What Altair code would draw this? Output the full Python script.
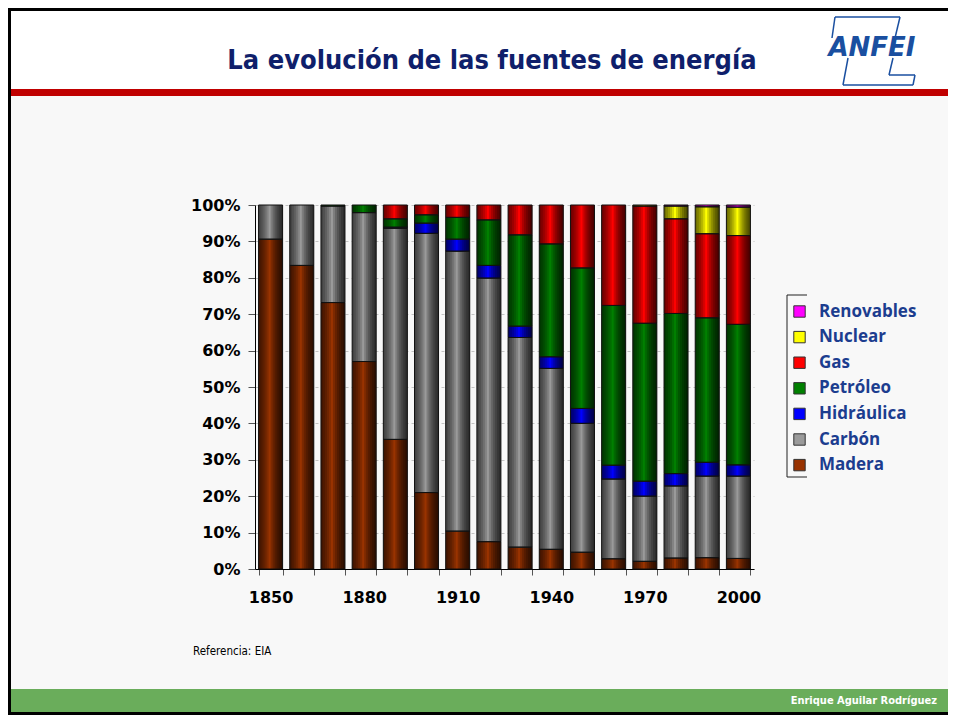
import altair as alt
import pandas as pd

# ---------------- data ----------------
anios = [1850, 1860, 1870, 1880, 1890, 1900, 1910, 1920,
         1930, 1940, 1950, 1960, 1970, 1980, 1990, 2000]
madera = [90.6, 83.4, 73.2, 57.0, 35.6, 21.0, 10.4, 7.5, 6.0, 5.4, 4.6, 2.8, 2.1, 3.0, 3.1, 2.9]
carbon = [9.4, 16.6, 26.5, 40.9, 58.0, 71.2, 76.9, 72.4, 57.6, 49.7, 35.4, 21.9, 17.9, 19.8, 22.4, 22.6]
hidraulica = [0, 0, 0, 0, 0.3, 2.8, 3.3, 3.5, 3.1, 3.2, 4.1, 3.8, 4.1, 3.4, 3.8, 3.1]
petroleo = [0, 0, 0.3, 2.1, 2.3, 2.3, 6.0, 12.5, 25.1, 31.0, 38.6, 43.9, 43.4, 44.0, 39.7, 38.6]
gas = [0, 0, 0, 0, 3.8, 2.7, 3.4, 4.1, 8.2, 10.7, 17.3, 27.6, 32.2, 26.0, 23.1, 24.4]
nuclear = [0, 0, 0, 0, 0, 0, 0, 0, 0, 0, 0, 0, 0.3, 3.5, 7.4, 7.8]
renovables = [0, 0, 0, 0, 0, 0, 0, 0, 0, 0, 0, 0, 0, 0.3, 0.5, 0.6]

fuentes = ["Madera", "Carbón", "Hidráulica", "Petróleo", "Gas", "Nuclear", "Renovables"]
colores = ["#993300", "#9a9a9a", "#0000ff", "#008000", "#ff0000", "#ffff00", "#ff00ff"]
series = [madera, carbon, hidraulica, petroleo, gas, nuclear, renovables]
y_ticks = [0, 0.1, 0.2, 0.3, 0.4, 0.5, 0.6, 0.7, 0.8, 0.9, 1.0]

titulo = "La evolución de las fuentes de energía"
referencia = "Referencia: EIA"
autor = "Enrique Aguilar Rodríguez"
logo = "ANFEI"

rows = []
for i, (f, s) in enumerate(zip(fuentes, series)):
    for a, v in zip(anios, s):
        if v > 0:
            rows.append({"anio": a, "fuente": f, "valor": v, "orden": i})
df = pd.DataFrame(rows)
one = pd.DataFrame({"k": [0]})

leg_domain = fuentes[::-1]
leg_range = colores[::-1]

NARROW = "DejaVu Sans Condensed, Liberation Sans Narrow, Roboto, sans-serif"

# bar shading (style): overlapping translucent strips anchored at both bar edges
HALF = 12.0
left_widths = [2, 4, 6, 8, 10]
right_widths = [2, 4, 6, 8, 10, 12]
LEFT_ALPHA = 0.15
RIGHT_ALPHA = 0.18

# ---------------- encodings ----------------
x_enc = alt.X(
    "anio:O",
    scale=alt.Scale(paddingInner=0.23, paddingOuter=0.115),
    axis=alt.Axis(
        title=None, labelAngle=0, tickBand="extent", grid=False,
        labelExpr="datum.value % 30 == 20 ? datum.label : ''",
        labelFont="DejaVu Sans", labelFontWeight="bold", labelFontSize=16,
        labelColor="black", tickColor="#555555", tickSize=6,
        domainColor="black", labelPadding=14,
    ),
)
y_enc = alt.Y(
    "valor:Q", stack="normalize",
    scale=alt.Scale(domain=[0, 1], nice=False),
    axis=alt.Axis(
        title=None, values=y_ticks, format=".0%", grid=True,
        gridColor="#c4c4c4", gridDash=[3, 3], gridWidth=1,
        labelFont="DejaVu Sans", labelFontWeight="bold", labelFontSize=16,
        labelColor="black", tickColor="#555555", tickSize=7,
        domainColor="black", labelPadding=8,
    ),
)
order_enc = alt.Order("orden:Q", sort="ascending")

bars = alt.Chart(df).mark_bar().encode(
    x=x_enc, y=y_enc, order=order_enc,
    color=alt.Color(
        "fuente:N",
        scale=alt.Scale(domain=leg_domain, range=leg_range),
        legend=alt.Legend(
            title=None, orient="none", legendX=536, legendY=98,
            symbolType="square", symbolSize=130, symbolStrokeColor="#333333",
            symbolStrokeWidth=1, labelFont="Open Sans", labelFontWeight="bold",
            labelFontSize=17, labelColor="#1c3d8f", labelOffset=11,
            rowPadding=7.6, padding=0,
        ),
    ),
)

strip_specs = [(-HALF + w / 2, w, LEFT_ALPHA) for w in left_widths] + \
              [(HALF - w / 2, w, RIGHT_ALPHA) for w in right_widths]
strips = [
    alt.Chart(df).mark_bar(color="#000000", opacity=a, width=w, xOffset=o).encode(
        x=x_enc, y=y_enc, order=order_enc, detail="fuente:N"
    )
    for o, w, a in strip_specs
]
outline = alt.Chart(df).mark_bar(fillOpacity=0, stroke="#111111", strokeWidth=1).encode(
    x=x_enc, y=y_enc, order=order_enc, detail="fuente:N"
)


# ---------------- slide decorations ----------------
def rect(x, x2, y, y2, color):
    return alt.Chart(one).mark_rect(color=color).encode(
        x=alt.value(x), x2=alt.value(x2), y=alt.value(y), y2=alt.value(y2)
    )


def rule(x, x2, y, y2, color, w=1.0):
    return alt.Chart(one).mark_rule(color=color, strokeWidth=w).encode(
        x=alt.value(x), x2=alt.value(x2), y=alt.value(y), y2=alt.value(y2)
    )


def text(t, x, y, size, color, font, align="left", weight="normal", style="normal", baseline="middle"):
    return alt.Chart(one).mark_text(
        align=align, baseline=baseline, fontSize=size, color=color, font=font,
        fontWeight=weight, fontStyle=style,
    ).encode(x=alt.value(x), y=alt.value(y), text=alt.value(t))


deco = [
    rect(-247, 693, -197, -116, "#ffffff"),
    rect(-247, 693, -116, -109, "#c00000"),
    rect(-247, 693, 484, 510, "#6aad5b"),
    rect(-247, -244, -197, 510, "#000000"),
    rect(-247, 693, -197, -194, "#000000"),
    rect(-247, 693, 507, 510, "#000000"),
]
LOGO = "#1a4fa0"
logo_lines = [
    rule(580, 645, -188, -188, LOGO, 1.5),
    rule(580, 577, -188, -167, LOGO, 1.5),
    rule(645, 640, -188, -167, LOGO, 1.5),
    rule(593, 588, -147, -120, LOGO, 1.5),
    rule(588, 658, -120, -120, LOGO, 1.5),
    rule(658, 660, -120, -130, LOGO, 1.5),
    rule(660, 634, -130, -130, LOGO, 1.5),
    rule(634, 638, -130, -147, LOGO, 1.5),
]
legend_box = [
    rule(532, 532, 90, 272, "#222222"),
    rule(532, 552, 90, 90, "#222222"),
    rule(532, 552, 272, 272, "#222222"),
]
texts = [
    text(titulo, 237, -136, 27, "#0f1f6b", NARROW, align="center",
         weight="bold", baseline="alphabetic"),
    text(logo, 617, -157, 26, LOGO, "DejaVu Sans", align="center",
         weight="bold", style="italic"),
    text(referencia, -62, 447, 11.5, "#000000", NARROW),
    text(autor, 682, 496, 11, "#ffffff", NARROW, align="right", weight="bold"),
]

chart = alt.layer(*deco, bars, *strips, outline, *legend_box, *logo_lines, *texts).properties(
    width=499, height=364,
    padding={"left": 247, "top": 197, "right": 194, "bottom": 146},
    autosize=alt.AutoSizeParams(type="none"),
).configure(background="#f8f8f8").configure_view(strokeWidth=0)

chart.save("out.html", embed_options={"renderer": "svg", "actions": False})
